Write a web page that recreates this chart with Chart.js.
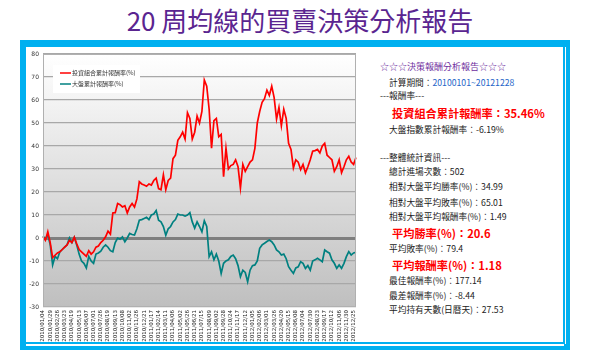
<!DOCTYPE html>
<html><head><meta charset="utf-8">
<script src="https://cdn.jsdelivr.net/npm/chart.js@4/dist/chart.umd.min.js"></script>
<style>
body{margin:0;background:#fff;width:600px;height:362px;position:relative;overflow:hidden;font-family:"Noto Sans CJK TC","Noto Sans",sans-serif;}
.title{position:absolute;left:0;width:600px;top:4px;text-align:center;font-size:26px;color:#5a2590;line-height:32px;}
.b{position:absolute;background:#00B0F0;}
.w{position:absolute;background:#fff;}
#wrap{position:absolute;left:26px;top:46px;width:340px;height:298px;}
.t{position:absolute;white-space:nowrap;font-size:8.7px;color:#222;line-height:12px;}
.r{color:#ff0000;font-size:11.2px;font-weight:bold;line-height:16px;}
.p{color:#7030A0;font-size:9px;}
.bl{color:#1E64C8;}
</style></head>
<body>
<div class="title">20 周均線的買賣決策分析報告</div>
<div class="b" style="left:20px;top:40px;width:550px;height:7px"></div>
<div class="b" style="left:20px;top:40px;width:6px;height:310px"></div>
<div class="b" style="left:563px;top:40px;width:7px;height:310px"></div>
<div class="b" style="left:20px;top:342px;width:550px;height:8px"></div>
<div class="w" style="left:26px;top:344px;width:538px;height:1.5px"></div>
<div class="w" style="left:564.5px;top:47px;width:1.5px;height:297px"></div>
<div id="wrap"><canvas id="c" width="340" height="298"></canvas></div>

<div class="t p" style="left:380px;top:60.7px">☆☆☆決策報酬分析報告☆☆☆</div>
<div class="t" style="left:389px;top:77.3px">計算期間：<span class="bl">20100101~20121228</span></div>
<div class="t" style="left:380px;top:89.7px">---報酬率---</div>
<div class="t r" style="left:392px;top:105.3px">投資組合累計報酬率：35.46%</div>
<div class="t" style="left:389px;top:124px">大盤指數累計報酬率：-6.19%</div>
<div class="t" style="left:380px;top:152.3px">---整體統計資訊---</div>
<div class="t" style="left:389px;top:165.7px">總計進場次數：502</div>
<div class="t" style="left:389px;top:181.3px">相對大盤平均勝率(%)：34.99</div>
<div class="t" style="left:389px;top:196.7px">相對大盤平均敗率(%)：65.01</div>
<div class="t" style="left:389px;top:210.7px">相對大盤平均報酬率(%)：1.49</div>
<div class="t r" style="left:392px;top:224.7px">平均勝率(%)：20.6</div>
<div class="t" style="left:389px;top:243.3px">平均敗率(%)：79.4</div>
<div class="t r" style="left:392px;top:257px">平均報酬率(%)：1.18</div>
<div class="t" style="left:389px;top:274.7px">最佳報酬率(%)：177.14</div>
<div class="t" style="left:389px;top:290px">最差報酬率(%)：-8.44</div>
<div class="t" style="left:389px;top:304px">平均持有天數(日曆天)：27.53</div>

<script>
const tickLabels = ['2010/01/04','2010/01/29','2010/02/26','2010/03/23','2010/04/19','2010/05/13','2010/06/07','2010/07/01','2010/07/26','2010/08/19','2010/09/13','2010/10/08','2010/11/02','2010/11/26','2010/12/21','2011/01/17','2011/02/14','2011/03/11','2011/04/06','2011/05/02','2011/05/26','2011/06/21','2011/07/15','2011/08/09','2011/09/02','2011/09/28','2011/10/24','2011/11/17','2011/12/12','2012/01/05','2012/02/06','2012/03/01','2012/03/26','2012/04/20','2012/05/15','2012/06/08','2012/07/04','2012/07/30','2012/08/23','2012/09/17','2012/10/12','2012/11/06','2012/11/30','2012/12/25'];

const seriesNames = ['投資組合累計報酬率(%)', '大盤累計報酬率(%)'];

const portfolio = [0.5,-1,2.7,-2,-8.5,-7.5,-6.5,-6,-5,-4,-3,-1,-2,0.3,-2.5,-5,-6,-7,-8,-5.5,
 -7,-6,-4,-3.5,-2,-1,0.5,3,1.7,10.9,11,15,14.5,13.5,14,10.9,13.5,15,13.5,17,
 24.5,23.5,23,22.5,23.5,23,25,26,21.5,21,27.5,21,25,26,34.5,36,42.5,44,46,43,
 54.5,52,43,46,53,50,55,68.7,66,56,39,51,52,44,45,26.7,39,30,31.5,32,
 34,31,21.7,32,29,31,33,34,39,50,55,59,60.6,64.3,62,66,61,51.7,56.8,48.8,
 56,52,41.2,38.5,30.5,34,33,29.7,32,28.3,31,34,37.7,38,38.5,37,40,41.2,36,35,
 34,29,31,34,28.4,31,34,35.5,33,32,35];

const market = [0.9,-0.5,1.5,-3,-11.7,-8,-9,-6,-5,-4,-3,0,-2,0.3,-3,-7,-10,-11,-13,-8,
 -10,-11,-7,-6.5,-5.7,-4,-3,-4,-5.5,-6,-2,0,-0.5,0.5,-1.6,0,2,1.5,1.3,4,
 7.7,8,8.5,9,8,10,10.4,11.9,7.7,7,5,1.2,4,5,7,8,10.4,10,10,9.5,
 10,11,7,4.3,7,5,2.7,7.5,5,-8.1,-6,-9.5,-7,-10,-15.4,-11,-10,-9.5,-8,-7.4,
 -9,-12,-16.8,-14,-15,-19,-14,-12,-11.7,-10,-4.5,-3,-2.3,-1.5,-0.9,-1.6,-3,-5.2,-6,-7.4,
 -7,-9,-12.5,-14,-15.4,-13,-12.5,-10.3,-11,-13.2,-12,-14,-10,-9.5,-8.8,-9.5,-10.3,-5.2,-6,-6.6,
 -9.5,-11,-13.2,-11.7,-13.2,-11,-8.1,-5.9,-7.4,-6.5,-6.2];

const yMin = -30, yMax = 80, yStep = 10;

const labels = portfolio.map((_, i) => (i % 3 === 0 ? (tickLabels[i / 3] || '') : ''));

const bgPlugin = {
  id: 'bg',
  beforeDraw(chart) {
    const { ctx, chartArea: a } = chart;
    const g = ctx.createLinearGradient(0, a.top, 0, a.bottom);
    g.addColorStop(0, '#ffffff');
    g.addColorStop(1, '#bfbfbf');
    ctx.save();
    ctx.fillStyle = g;
    ctx.fillRect(a.left, a.top, a.right - a.left, a.bottom - a.top);
    ctx.restore();
  },
  afterDraw(chart) {
    const { ctx, chartArea: a } = chart;
    ctx.save();
    ctx.strokeStyle = '#b0b0b0';
    ctx.lineWidth = 1;
    ctx.strokeRect(a.left + 0.5, a.top + 0.5, a.right - a.left - 1, a.bottom - a.top - 1);
    const lx = a.left + 10, ly = a.top + 11, lw = 87, lh = 28;
    ctx.fillStyle = '#ffffff';
    ctx.fillRect(lx, ly, lw, lh);
    const ds = chart.data.datasets;
    ctx.font = '6px "Noto Sans CJK TC", sans-serif';
    ctx.textBaseline = 'middle';
    ds.forEach((d, k) => {
      const yy = ly + 8 + k * 11;
      ctx.strokeStyle = d.borderColor;
      ctx.lineWidth = 1.5;
      ctx.beginPath();
      ctx.moveTo(lx + 7, yy);
      ctx.lineTo(lx + 18, yy);
      ctx.stroke();
      ctx.fillStyle = '#333';
      ctx.fillText(d.label, lx + 19, yy);
    });
    ctx.restore();
  }
};

new Chart(document.getElementById('c'), {
  type: 'line',
  data: {
    labels: labels,
    datasets: [
      { label: seriesNames[0], data: portfolio, borderColor: '#ff0000', borderWidth: 1.7, pointRadius: 0, tension: 0, fill: false },
      { label: seriesNames[1], data: market, borderColor: '#008080', borderWidth: 1.7, pointRadius: 0, tension: 0, fill: false }
    ]
  },
  options: {
    responsive: false,
    animation: false,
    layout: { padding: { top: 8, right: 10, left: 0, bottom: 0 } },
    plugins: { legend: { display: false }, tooltip: { enabled: false } },
    scales: {
      x: {
        grid: { display: false, drawTicks: false },
        border: { display: false },
        ticks: { autoSkip: false, minRotation: 90, maxRotation: 90, font: { size: 5.5, family: 'DejaVu Sans' }, color: '#222', padding: 3 },
        afterFit(s) { s.height = 37; }
      },
      y: {
        min: yMin, max: yMax,
        ticks: { stepSize: yStep, font: { size: 6, family: 'DejaVu Sans' }, color: '#333', padding: 4 },
        grid: {
          drawTicks: false,
          color: (c) => (c.tick && c.tick.value === 0 ? '#7f7f7f' : '#a8a8a8'),
          lineWidth: (c) => (c.tick && c.tick.value === 0 ? 3 : 1.2)
        },
        border: { display: false },
        afterFit(s) { s.width = 17; }
      }
    }
  },
  plugins: [bgPlugin]
});
</script>
</body></html>
